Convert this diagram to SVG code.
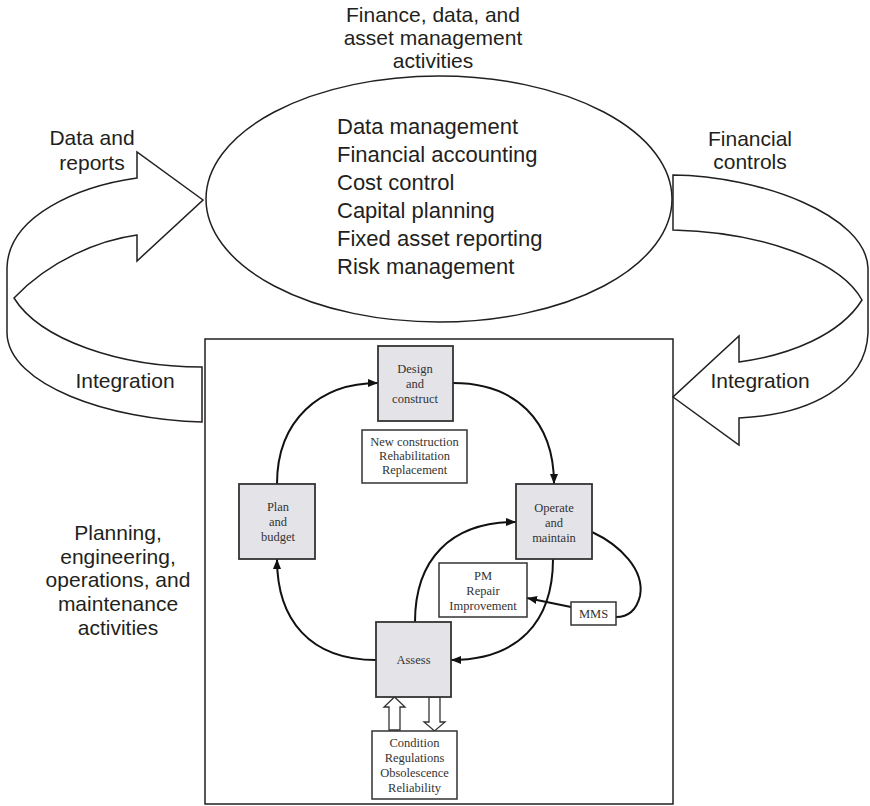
<svg xmlns="http://www.w3.org/2000/svg" width="870" height="806" viewBox="0 0 870 806">
<defs>
<style>
.sans{font-family:"Liberation Sans",Arial,sans-serif;font-size:21px;fill:#231f20}
.list{font-size:22px}
.ser{font-family:"Liberation Serif","Times New Roman",serif;font-size:12.5px;fill:#333;text-anchor:middle}
.band{fill:#fff;stroke:#231f20;stroke-width:1.5;stroke-linejoin:miter}
.node{fill:#e4e4e8;stroke:#333;stroke-width:1.8}
.box{fill:#fff;stroke:#333;stroke-width:1.5}
.conn{fill:none;stroke:#111;stroke-width:2}
.hollow{fill:#fff;stroke:#333;stroke-width:1.3}
</style>
<marker id="ah" markerUnits="userSpaceOnUse" markerWidth="10" markerHeight="8" refX="10" refY="4" orient="auto">
<path d="M0,0 L10,4 L0,8 z" fill="#111"/>
</marker>
</defs>
<rect width="870" height="806" fill="#fff"/>

<g id="finance">
<text class="sans" text-anchor="middle"><tspan x="433" y="22">Finance, data, and</tspan><tspan x="433" y="45">asset management</tspan><tspan x="433" y="68">activities</tspan></text>
<ellipse cx="439" cy="199" rx="233" ry="123" fill="#fff" stroke="#231f20" stroke-width="1.5"/>
<text class="sans list"><tspan x="337" y="134">Data management</tspan><tspan x="337" y="162">Financial accounting</tspan><tspan x="337" y="190">Cost control</tspan><tspan x="337" y="218">Capital planning</tspan><tspan x="337" y="246">Fixed asset reporting</tspan><tspan x="337" y="274">Risk management</tspan></text>
</g>

<g id="left-band">
<path class="band" d="M137,178 C80,186 8,215 7,268 L7,333 C8,385 110,420 202,422 L202,367 C120,367 40,340 14,298 C50,260 100,240 137,235 L137,261 L203,200 L137,152 Z"/>
<text class="sans" text-anchor="middle"><tspan x="92" y="145">Data and</tspan><tspan x="92" y="170">reports</tspan></text>
<text class="sans" text-anchor="middle" x="125" y="388">Integration</text>
</g>

<g id="right-band">
<path class="band" d="M673,175 C760,176 866,215 868,268 L868,333 C866,385 810,415 739,418 L739,445 L673,397 L739,336 L739,362 C790,355 840,335 862,300 C840,260 760,232 673,230 Z"/>
<text class="sans" text-anchor="middle"><tspan x="750" y="146">Financial</tspan><tspan x="750" y="169">controls</tspan></text>
<text class="sans" text-anchor="middle" x="760" y="388">Integration</text>
</g>

<g id="planning-label">
<text class="sans" text-anchor="middle"><tspan x="118" y="540">Planning,</tspan><tspan x="118" y="564">engineering,</tspan><tspan x="118" y="587">operations, and</tspan><tspan x="118" y="611">maintenance</tspan><tspan x="118" y="635">activities</tspan></text>
</g>

<g id="frame">
<rect x="205" y="339" width="468" height="465" fill="none" stroke="#231f20" stroke-width="1.5"/>
</g>

<g id="connectors">
<path class="conn" d="M277,484 C277,420 320,383 378,383" marker-end="url(#ah)"/>
<path class="conn" d="M453,383 C515,383 554,420 554,484" marker-end="url(#ah)"/>
<path class="conn" d="M376,660 C310,660 277,620 277,559" marker-end="url(#ah)"/>
<path class="conn" d="M415,622 C415,560 450,522 516,522" marker-end="url(#ah)"/>
<path class="conn" d="M553,559 C553,622 518,660 451,660" marker-end="url(#ah)"/>
<path class="conn" d="M592,532 C620,545 645,570 640,596 C636,612 627,617 616,617"/>
<path class="conn" d="M571,607 L527,598" marker-end="url(#ah)"/>
<path class="hollow" d="M389,730 L389,707 L384,707 L394.5,697 L405,707 L400,707 L400,730 Z"/>
<path class="hollow" d="M429,697 L429,722 L424,722 L434.5,731 L445,722 L440,722 L440,697 Z"/>
</g>

<g id="design">
<rect class="node" x="378" y="346" width="75" height="75"/>
<text class="ser"><tspan x="415" y="373">Design</tspan><tspan x="415" y="388">and</tspan><tspan x="415" y="403">construct</tspan></text>
</g>
<g id="design-notes">
<rect class="box" x="362" y="430" width="105" height="53"/>
<text class="ser"><tspan x="414.5" y="446">New construction</tspan><tspan x="414.5" y="460">Rehabilitation</tspan><tspan x="414.5" y="474">Replacement</tspan></text>
</g>
<g id="plan">
<rect class="node" x="239" y="484" width="76" height="75"/>
<text class="ser"><tspan x="278" y="511">Plan</tspan><tspan x="278" y="526">and</tspan><tspan x="278" y="541">budget</tspan></text>
</g>
<g id="operate">
<rect class="node" x="516" y="484" width="76" height="75"/>
<text class="ser"><tspan x="554" y="512">Operate</tspan><tspan x="554" y="527">and</tspan><tspan x="554" y="542">maintain</tspan></text>
</g>
<g id="pm">
<rect class="box" x="439" y="563" width="88" height="54"/>
<text class="ser"><tspan x="483" y="580">PM</tspan><tspan x="483" y="595">Repair</tspan><tspan x="483" y="610">Improvement</tspan></text>
</g>
<g id="mms">
<rect class="box" x="571" y="602" width="45" height="23"/>
<text class="ser" x="593.5" y="618">MMS</text>
</g>
<g id="assess">
<rect class="node" x="376" y="622" width="75" height="75"/>
<text class="ser" x="413.5" y="664">Assess</text>
</g>
<g id="assess-notes">
<rect class="box" x="372" y="731" width="85" height="68"/>
<text class="ser"><tspan x="414.5" y="747">Condition</tspan><tspan x="414.5" y="762">Regulations</tspan><tspan x="414.5" y="777">Obsolescence</tspan><tspan x="414.5" y="792">Reliability</tspan></text>
</g>
</svg>
